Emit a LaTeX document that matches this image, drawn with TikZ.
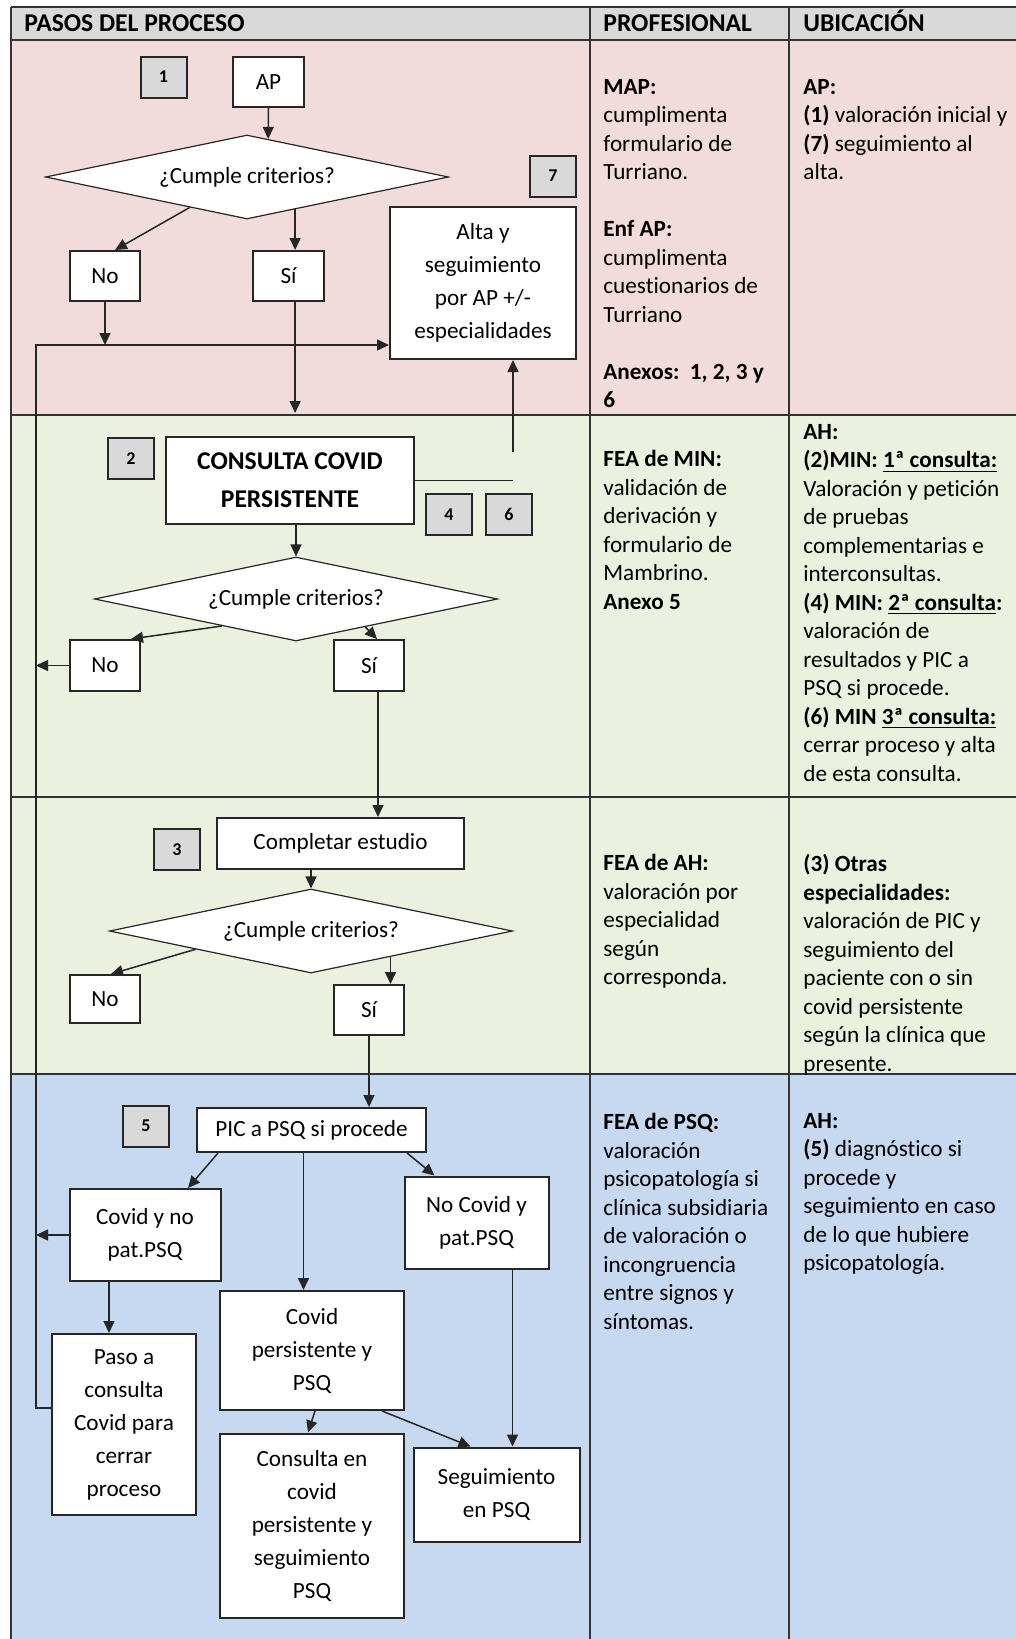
\documentclass[tikz,border=0pt]{standalone}
\usepackage{fontspec}
\setmainfont{Carlito}[Ligatures=NoCommon]
\usetikzlibrary{arrows.meta,shapes.geometric}
\definecolor{rowpink}{HTML}{F2DCDB}
\definecolor{rowgreen}{HTML}{EBF1DE}
\definecolor{rowblue}{HTML}{C6D9F1}
\definecolor{headgray}{HTML}{D9D9D9}
\definecolor{rulegray}{HTML}{333333}

\begin{document}
\begin{tikzpicture}[x=0.5pt, y=-0.5pt,
    box/.style={draw=black!85, line width=1pt, fill=white, inner sep=0pt, align=center, font=\fontsize{11.6}{16.5}\selectfont},
    numbox/.style={draw=black!85, line width=1pt, fill=headgray, inner sep=0pt, minimum width=23pt, minimum height=20.5pt, font=\fontsize{9}{10}\selectfont\bfseries},
    decision/.style={diamond, aspect=4.8, draw=black!85, line width=0.6pt, fill=white, inner sep=0pt, minimum width=201.5pt, minimum height=42pt, font=\fontsize{11.6}{14}\selectfont},
    arr/.style={-{Triangle[length=6pt,width=5.5pt]}, line width=0.75pt, black!85},
    coltext/.style={anchor=north west, inner sep=0pt, align=left, font=\fontsize{11.6}{14.25}\selectfont, execute at begin node=\strut},
    head/.style={anchor=base west, inner sep=0pt, font=\fontsize{12.8}{15}\selectfont\bfseries}]
    \useasboundingbox (0,0) rectangle (1016,1639);
    \fill[headgray] (10.5,7) rectangle (1016,40);
    \fill[rowpink] (10.5,40) rectangle (1016,415);
    \fill[rowgreen] (10.5,415) rectangle (1016,1073.5);
    \fill[rowblue] (10.5,1073.5) rectangle (1016,1639);
    \foreach \y in {7,40,415,796.5,1073.5}
        \draw[rulegray, line width=1pt] (10.5,\y) -- (1016,\y);
    \foreach \x in {10.5,590,789}
        \draw[rulegray, line width=1pt] (\x,7) -- (\x,1639);

    \node[head] (hpasos) at (24,31) {PASOS DEL PROCESO};
    \node[head] (hprof) at (603,31) {PROFESIONAL};
    \node[head] (hubic) at (803,31) {UBICACIÓN};

    \node[numbox] (n1) at (163.5,77) {1};
    \node[box, minimum width=35.5pt, minimum height=25pt] (ap) at (268.5,82) {AP};
    \node[decision] (d1) at (247,177) {¿Cumple criterios?};
    \node[box, minimum width=35pt, minimum height=25pt] (no1) at (105,276) {No};
    \node[box, minimum width=35.5pt, minimum height=25pt] (si1) at (288.5,276) {Sí};
    \node[numbox] (n7) at (553,176) {7};
    \node[box, minimum width=93pt, minimum height=76pt] (alta) at (483,283) {Alta y\\seguimiento\\por AP +/-\\especialidades};

    \node[numbox] (n2) at (131,458.5) {2};
    \node[box, minimum width=124pt, minimum height=43.5pt, font=\fontsize{12.8}{19}\selectfont\bfseries] (consulta) at (290,480.5) {CONSULTA COVID\\PERSISTENTE};
    \node[numbox] (n4) at (449,514.5) {4};
    \node[numbox] (n6) at (509,514.5) {6};
    \node[decision] (d2) at (296,599) {¿Cumple criterios?};
    \node[box, minimum width=35pt, minimum height=25.5pt] (no2) at (105,665.5) {No};
    \node[box, minimum width=35pt, minimum height=25.5pt] (si2) at (369,665.5) {Sí};

    \node[numbox] (n3) at (177,849.5) {3};
    \node[box, minimum width=123.5pt, minimum height=25.5pt] (comp) at (340.5,843.5) {Completar estudio};
    \node[decision] (d3) at (311,931) {¿Cumple criterios?};
    \node[box, minimum width=35pt, minimum height=24pt] (no3) at (105,999) {No};
    \node[box, minimum width=35pt, minimum height=25pt] (si3) at (369,1010) {Sí};

    \node[numbox] (n5) at (146,1126) {5};
    \node[box, minimum width=114.5pt, minimum height=22pt] (pic) at (311.5,1130) {PIC a PSQ si procede};
    \node[box, minimum width=75.5pt, minimum height=46pt] (cyn) at (145,1235) {Covid y no\\pat.PSQ};
    \node[box, minimum width=72pt, minimum height=46pt] (ncy) at (476.5,1222.5) {No Covid y\\pat.PSQ};
    \node[box, minimum width=92pt, minimum height=59.5pt] (cpp) at (312,1350.5) {Covid\\persistente y\\PSQ};
    \node[box, minimum width=72pt, minimum height=90.5pt] (paso) at (124,1424.5) {Paso a\\consulta\\Covid para\\cerrar\\proceso};
    \node[box, minimum width=92pt, minimum height=92pt] (cons) at (312,1525.5) {Consulta en\\covid\\persistente y\\seguimiento\\PSQ};
    \node[box, minimum width=83pt, minimum height=47pt] (seg) at (496.5,1494.5) {Seguimiento\\en PSQ};

    \node[coltext] (prof1) at (603,79) {\textbf{MAP:}\\cumplimenta\\formulario de\\Turriano.\\[14.25pt]\textbf{Enf AP:}\\cumplimenta\\cuestionarios de\\Turriano\\[14.25pt]\textbf{Anexos:\ \ 1, 2, 3 y}\\\textbf{6}};
    \node[coltext] (ubic1) at (803,79) {\textbf{AP:}\\\textbf{(1)} valoración inicial y\\\textbf{(7)} seguimiento al\\alta.};
    \node[coltext] (prof2) at (603,450) {\textbf{FEA de MIN:}\\validación de\\derivación y\\formulario de\\Mambrino.\\\textbf{Anexo 5}};
    \node[coltext] (ubic2) at (803,424) {\textbf{AH:}\\\textbf{(2)MIN: \underline{1ª consulta:}}\\Valoración y petición\\de pruebas\\complementarias e\\interconsultas.\\\textbf{(4) MIN: \underline{2ª consulta}:}\\valoración de\\resultados y PIC a\\PSQ si procede.\\\textbf{(6) MIN \underline{3ª consulta:}}\\cerrar proceso y alta\\de esta consulta.};
    \node[coltext] (prof3) at (603,854) {\textbf{FEA de AH:}\\valoración por\\especialidad\\según\\corresponda.};
    \node[coltext] (ubic3) at (803,854) {\textbf{(3) Otras}\\\textbf{especialidades:}\\valoración de PIC y\\seguimiento del\\paciente con o sin\\covid persistente\\según la clínica que\\presente.};
    \node[coltext] (prof4) at (603,1113) {\textbf{FEA de PSQ:}\\valoración\\psicopatología si\\clínica subsidiaria\\de valoración o\\incongruencia\\entre signos y\\síntomas.};
    \node[coltext] (ubic4) at (803,1113) {\textbf{AH:}\\\textbf{(5)} diagnóstico si\\procede y\\seguimiento en caso\\de lo que hubiere\\psicopatología.};

    \coordinate (fbtop) at (36,345);
    \coordinate (fbbot) at (36,1408);
    \coordinate (rowtwo) at (0,413);
    \coordinate (upsix) at (513,452);

    \draw[arr] (ap.south) -- (d1.61);
    \draw[arr] (d1.208) -- ([xshift=5pt]no1.north);
    \draw[arr] (d1.-34) -- (d1.-34 |- si1.north);
    \draw[arr] (no1.south) -- (no1.south |- fbtop);
    \draw[arr] (d1.-34 |- si1.south) -- (d1.-34 |- rowtwo);
    \draw[arr] (upsix) -- (upsix |- alta.south);
    \draw[black!85, line width=0.75pt] (consulta.east) -- (consulta.east -| upsix);
    \draw[arr] (fbbot -| paso.west) -- (fbbot) -- (fbtop) -- (fbtop -| alta.west);

    \draw[arr] (d2.north |- consulta.south) -- (d2.north);
    \draw[arr] (d2.200) -- ([xshift=-5pt]no2.north east);
    \draw[arr] (d2.-22) -- ([xshift=4pt]si2.north);
    \draw[arr] (no2.west) -- (no2.west -| fbtop);
    \draw[arr] ([xshift=4.5pt]si2.south) -- ([xshift=4.5pt]si2.south |- comp.north);

    \draw[arr] (d3.north |- comp.south) -- (d3.north);
    \draw[arr] (d3.189) -- ([xshift=3pt]no3.north);
    \draw[arr] (d3.-18) -- (d3.-18 |- si3.north);
    \draw[arr] (si3.south) -- (si3.south |- pic.north);

    \draw[arr] ([xshift=11pt]pic.south west) -- ([xshift=21.5pt]cyn.north);
    \draw[arr] ([xshift=-4pt]pic.south) -- ([xshift=-4pt]pic.south |- cpp.north);
    \draw[arr] ([xshift=-10pt]pic.south east) -- ([xshift=15.5pt]ncy.north west);
    \draw[arr] ([xshift=-18pt]cyn.south) -- ([xshift=-18pt]cyn.south |- paso.north);
    \draw[arr] (cyn.west) -- (cyn.west -| fbtop);
    \draw[arr] ([xshift=18pt]ncy.south) -- ([xshift=18pt]ncy.south |- seg.north);
    \draw[arr] ([xshift=1.5pt]cpp.south) -- ([xshift=-2pt]cons.north);
    \draw[arr] ([xshift=-11.5pt]cpp.south east) -- ([xshift=-13pt]seg.north);
\end{tikzpicture}
\end{document}
